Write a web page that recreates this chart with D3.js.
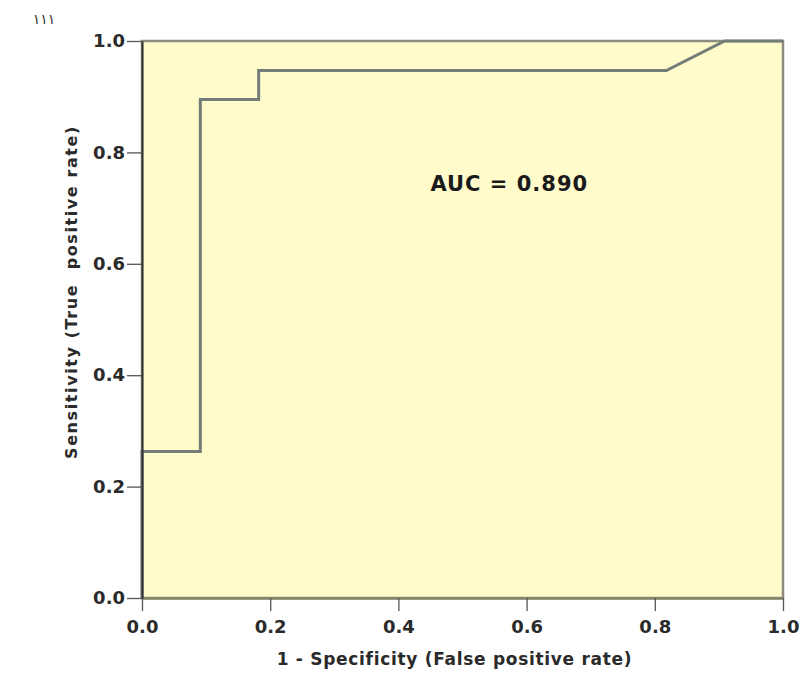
<!DOCTYPE html>
<html>
<head>
<meta charset="utf-8">
<script src="https://cdn.jsdelivr.net/npm/d3@7"></script>
<style>
  body { margin: 0; background: #fff; }
  text { font-family: "DejaVu Sans", Arial, sans-serif; font-weight: bold; }
</style>
</head>
<body>
<div id="chart"></div>
<script>
// ROC curve points (1 - specificity, sensitivity)
const fpr = [0, 0, 0.091, 0.091, 0.182, 0.182, 0.818, 0.909, 1.0];
const tpr = [0, 0.263, 0.263, 0.895, 0.895, 0.947, 0.947, 1.0, 1.0];
const tickValues = [0, 0.2, 0.4, 0.6, 0.8, 1.0];
const aucLabel = "AUC = 0.890";
const pageLabel = "١١١";

const margin = { top: 41, right: 20, bottom: 76, left: 142 },
      width = 803 - margin.left - margin.right,
      height = 674 - margin.top - margin.bottom;

const svg = d3.select("#chart")
    .append("svg")
    .attr("width", 803)
    .attr("height", 674);

const g = svg.append("g")
    .attr("transform", `translate(${margin.left},${margin.top})`);

const x = d3.scaleLinear().domain([0, 1]).range([0, width]);
const y = d3.scaleLinear().domain([0, 1]).range([height, 0]);

// plot background and frame
g.append("rect")
    .attr("width", width)
    .attr("height", height)
    .attr("fill", "#fffbcb")
    .attr("stroke", "#8c8c80")
    .attr("stroke-width", 2.5);

// ROC line
const points = fpr.map((f, i) => [f, tpr[i]]);
g.append("path")
    .datum(points)
    .attr("fill", "none")
    .attr("stroke", "#737d78")
    .attr("stroke-width", 3)
    .attr("d", d3.line().x(d => x(d[0])).y(d => y(d[1])));

// axes
const fmt = d3.format(".1f");
const xAxis = g.append("g")
    .attr("transform", `translate(0,${height})`)
    .call(d3.axisBottom(x).tickValues(tickValues).tickFormat(fmt).tickSize(13).tickSizeOuter(0));
const yAxis = g.append("g")
    .call(d3.axisLeft(y).tickValues(tickValues).tickFormat(fmt).tickSize(15).tickSizeOuter(0));

xAxis.select(".domain").attr("stroke", "#85856a").attr("stroke-width", 2.5);
yAxis.select(".domain").attr("stroke", "#333").attr("stroke-width", 2);
[xAxis, yAxis].forEach(a => {
    a.selectAll(".tick line").attr("stroke", "#555").attr("stroke-width", 1.3);
    a.selectAll("text")
        .attr("fill", "#2a2a2a")
        .style("font-size", "18px")
        .style("font-weight", "bold");
});
xAxis.selectAll("text").attr("y", 35).attr("dy", 0);
yAxis.selectAll("text").attr("x", -17);

// axis titles
g.append("text")
    .attr("x", width / 2 - 8)
    .attr("y", height + 67)
    .attr("text-anchor", "middle")
    .style("font-size", "17px")
    .style("letter-spacing", "0.7px")
    .attr("fill", "#2a2a2a")
    .text("1 - Specificity (False positive rate)");

g.append("text")
    .attr("transform", `translate(-65,251) rotate(-90)`)
    .attr("text-anchor", "middle")
    .style("font-size", "16px")
    .style("letter-spacing", "1.6px")
    .style("white-space", "pre")
    .attr("fill", "#2a2a2a")
    .text("Sensitivity (True  positive rate)");

// AUC annotation
g.append("text")
    .attr("x", x(0.573))
    .attr("y", y(0.731))
    .attr("text-anchor", "middle")
    .style("font-size", "21px")
    .style("letter-spacing", "1px")
    .attr("fill", "#1a1a1a")
    .text(aucLabel);

// page number at top-left
svg.append("text")
    .attr("x", 44)
    .attr("y", 24)
    .attr("text-anchor", "middle")
    .style("font-size", "14px")
    .style("font-weight", "normal")
    .attr("fill", "#333")
    .text(pageLabel);
</script>
</body>
</html>
